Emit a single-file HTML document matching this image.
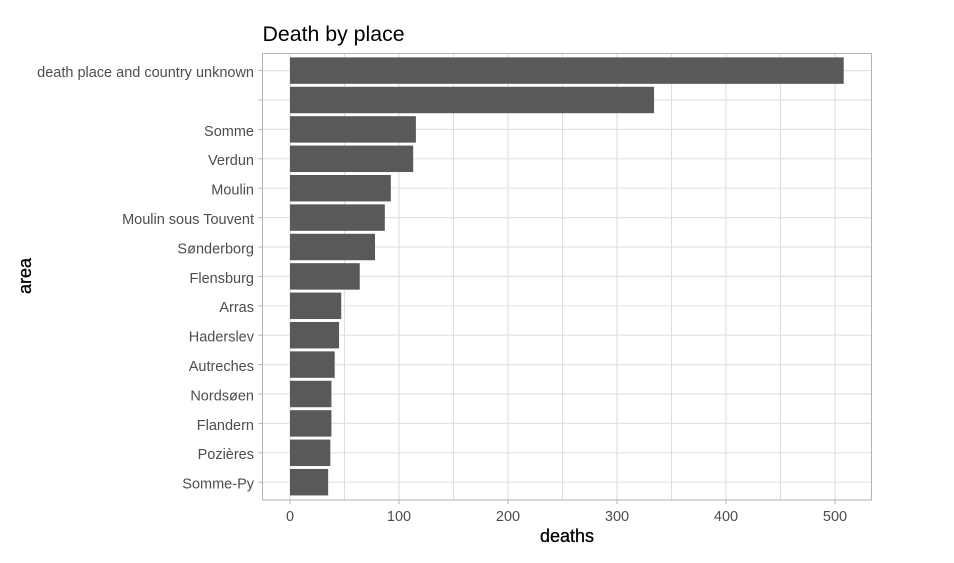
<!DOCTYPE html>
<html lang="en">
<head>
<meta charset="utf-8">
<title>Death by place</title>
<style>
html,body{margin:0;padding:0;background:#fff;width:954px;height:563px;overflow:hidden}
svg{display:block;font-family:"Liberation Sans",Arial,sans-serif}
</style>
</head>
<body>
<svg id="chart" width="954" height="563" viewBox="0 0 954 563" xmlns="http://www.w3.org/2000/svg"></svg>
<script>
const categories = ["death place and country unknown", "", "Somme", "Verdun", "Moulin", "Moulin sous Touvent", "Sønderborg", "Flensburg", "Arras", "Haderslev", "Autreches", "Nordsøen", "Flandern", "Pozières", "Somme-Py"];
const deaths = [508, 334, 115.5, 113, 92.5, 87, 78, 64, 47, 45, 41, 38, 38, 37, 35];
const xTickLabels = [0, 100, 200, 300, 400, 500];
const xMinorTicks = [50, 150, 250, 350, 450];

const svg = document.getElementById('chart');
const NS = 'http://www.w3.org/2000/svg';
const panel = {left: 262.5, right: 871.5, top: 53.5, bottom: 500};
function xScale(v) { return 290 + v * 1.09; }
function yScale(i) { return 70.6 + i * 29.4; }
const bandHeight = 29.4 * 0.9;

function make(tag, attrs, parent) {
  const el = document.createElementNS(NS, tag);
  for (const k in attrs) el.setAttribute(k, attrs[k]);
  (parent || svg).appendChild(el);
  return el;
}

const bg = make('rect', {x: panel.left, y: panel.top, width: panel.right - panel.left, height: panel.bottom - panel.top, fill: '#fff'});



xMinorTicks.forEach(function (v) {
  const g = make('line', {x1: xScale(v), x2: xScale(v), y1: panel.top, y2: panel.bottom, stroke: '#dedede', 'stroke-width': 1});
  
  
});
xTickLabels.forEach(function (v) {
  const g = make('line', {x1: xScale(v), x2: xScale(v), y1: panel.top, y2: panel.bottom, stroke: '#dedede', 'stroke-width': 1.1});
  
  
});
categories.forEach(function (c, i) {
  const g = make('line', {x1: panel.left, x2: panel.right, y1: yScale(i), y2: yScale(i), stroke: '#e2e2e2', 'stroke-width': 1.2});
  
  
});

deaths.forEach(function (d, i) {
  const b = make('rect', {x: xScale(0), y: yScale(i) - bandHeight / 2, width: xScale(d) - xScale(0), height: bandHeight, fill: '#595959'});
  
  
});

const border = make('rect', {x: panel.left, y: panel.top, width: panel.right - panel.left, height: panel.bottom - panel.top, fill: 'none', stroke: '#b3b3b3', 'stroke-width': 1});



categories.forEach(function (c, i) {
  const t = make('line', {x1: panel.left - 4, x2: panel.left, y1: yScale(i), y2: yScale(i), stroke: '#b3b3b3', 'stroke-width': 1});
  
  
  const l = make('text', {x: 254, y: yScale(i) + 6.4, 'text-anchor': 'end', 'font-size': 14.5, fill: '#4d4d4d'});
  
  
  l.textContent = c;
});

xTickLabels.forEach(function (v) {
  const t = make('line', {x1: xScale(v), x2: xScale(v), y1: panel.bottom, y2: panel.bottom + 4, stroke: '#b3b3b3', 'stroke-width': 1});
  
  
  const l = make('text', {x: xScale(v), y: 521, 'text-anchor': 'middle', 'font-size': 14.5, fill: '#4d4d4d'});
  
  
  l.textContent = v;
});

const title = make('text', {x: 262.5, y: 41, 'font-size': 21.3, fill: '#000'});


title.textContent = 'Death by place';

const xTitle = make('text', {x: 567, y: 542, 'text-anchor': 'middle', 'font-size': 18, fill: '#000', stroke: '#000', 'stroke-width': 0.3});


xTitle.textContent = 'deaths';

const yTitle = make('text', {x: 0, y: 0, transform: 'translate(31,276) rotate(-90)', 'text-anchor': 'middle', 'font-size': 18, fill: '#000', stroke: '#000', 'stroke-width': 0.3});


yTitle.textContent = 'area';
</script>
</body>
</html>
